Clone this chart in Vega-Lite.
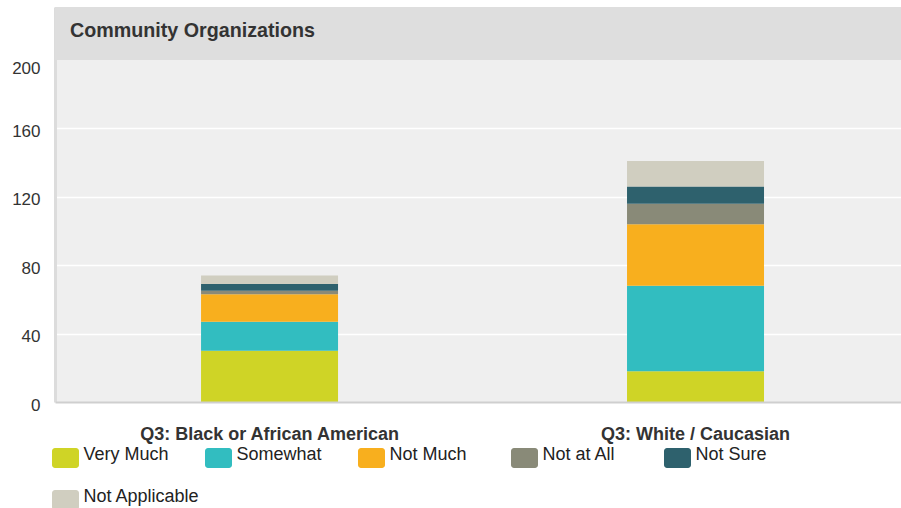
{
  "$schema": "https://vega.github.io/schema/vega-lite/v6.json",
  "width": 846,
  "height": 395,
  "autosize": {"type": "none"},
  "padding": {"left": 55, "top": 7, "right": 0, "bottom": 106},
  "background": "white",
  "config": {"view": {"fill": "#efefef", "stroke": null}, "font": "Liberation Sans"},
  "title": {"text": "Community Organizations", "anchor": "start", "frame": "group", "orient": "top", "offset": 0, "baseline": "middle", "dx": 15, "dy": 44, "fontSize": 19.7, "fontWeight": "bold", "color": "#333333"},
  "layer": [
    {
      "data": {"values": [
        {"group": "Q3: Black or African American", "response": "Very Much", "rank": 1, "count": 30},
        {"group": "Q3: Black or African American", "response": "Somewhat", "rank": 2, "count": 17},
        {"group": "Q3: Black or African American", "response": "Not Much", "rank": 3, "count": 16},
        {"group": "Q3: Black or African American", "response": "Not at All", "rank": 4, "count": 2},
        {"group": "Q3: Black or African American", "response": "Not Sure", "rank": 5, "count": 4},
        {"group": "Q3: Black or African American", "response": "Not Applicable", "rank": 6, "count": 5},
        {"group": "Q3: White / Caucasian", "response": "Very Much", "rank": 1, "count": 18},
        {"group": "Q3: White / Caucasian", "response": "Somewhat", "rank": 2, "count": 50},
        {"group": "Q3: White / Caucasian", "response": "Not Much", "rank": 3, "count": 36},
        {"group": "Q3: White / Caucasian", "response": "Not at All", "rank": 4, "count": 12},
        {"group": "Q3: White / Caucasian", "response": "Not Sure", "rank": 5, "count": 10},
        {"group": "Q3: White / Caucasian", "response": "Not Applicable", "rank": 6, "count": 15}
      ]},
      "mark": {"type": "bar"},
      "encoding": {
        "x": {
          "field": "group", "type": "nominal", "sort": null,
          "scale": {"paddingInner": 0.6784, "paddingOuter": 0.3322, "align": 0.516},
          "axis": {"title": null, "labelAngle": 0, "ticks": false, "domain": true, "domainColor": "#cfcfcf", "domainWidth": 2, "labelPadding": 23, "labelBaseline": "top", "labelFontSize": 18, "labelFontWeight": "bold", "labelColor": "#333333", "grid": false, "zindex": 1, "labelLimit": 400}
        },
        "y": {
          "field": "count", "type": "quantitative", "stack": "zero",
          "scale": {"domain": [0, 231], "nice": false, "zero": true},
          "axis": {
            "title": null,
            "values": [0, 20, 40, 60, 80, 100, 120, 140, 160, 180, 200],
            "labelExpr": "datum.value % 40 === 0 ? datum.label : ''",
            "ticks": false, "domain": true, "domainColor": "#dcdcdc", "domainWidth": 3,
            "grid": true, "gridColor": "#ffffff", "gridWidth": 1.5,
            "gridOpacity": {"condition": {"test": "datum.value === 200 || datum.value === 0", "value": 0}, "value": 1},
            "labelPadding": 15, "labelFontSize": 17, "labelColor": "#333333",
            "labelOffset": {"condition": {"test": "datum.value === 200", "value": 8}, "value": 3},
            "labelBaseline": "middle", "labelFlush": false, "labelOverlap": false, "labelBound": false,
            "zindex": 0
          }
        },
        "color": {
          "field": "response", "type": "nominal",
          "sort": ["Very Much", "Somewhat", "Not Much", "Not at All", "Not Sure", "Not Applicable"],
          "scale": {
            "domain": ["Very Much", "Somewhat", "Not Much", "Not at All", "Not Sure", "Not Applicable"],
            "range": ["#cfd426", "#32bdc0", "#f8af1e", "#898a78", "#2e616d", "#d0cec0"]
          },
          "legend": {
            "title": null, "orient": "none", "legendX": 0.5, "legendY": 438,
            "direction": "horizontal", "columns": 5, "gridAlign": "all",
            "symbolType": "M-1.05,-0.7H1.05A0.3,0.3,0,0,1,1.35,-0.4V1A0.3,0.3,0,0,1,1.05,1.3H-1.05A0.3,0.3,0,0,1,-1.35,1V-0.4A0.3,0.3,0,0,1,-1.05,-0.7Z",
            "symbolSize": 400, "symbolStrokeWidth": 0, "symbolOpacity": 1,
            "labelFontSize": 18, "labelColor": "#222222", "labelOffset": 8, "labelLimit": 300,
            "columnPadding": 4, "rowPadding": 19, "padding": 0
          }
        },
        "order": {"field": "rank", "type": "quantitative", "sort": "ascending"}
      }
    },
    {
      "data": {"values": [{}]},
      "mark": {"type": "rect", "color": "#dedede"},
      "encoding": {
        "y": {"datum": 200, "type": "quantitative"},
        "y2": {"datum": 231}
      }
    }
  ]
}
